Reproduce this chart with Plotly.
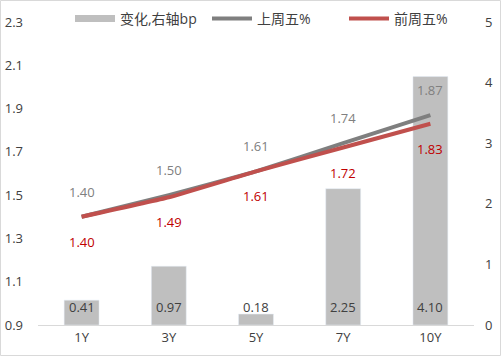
import plotly.graph_objects as go

categories = ["1Y", "3Y", "5Y", "7Y", "10Y"]
change_bp = [0.41, 0.97, 0.18, 2.25, 4.10]
last_fri = [1.40, 1.50, 1.61, 1.74, 1.87]
prev_fri = [1.40, 1.49, 1.61, 1.72, 1.83]
left_ticks = [0.9, 1.1, 1.3, 1.5, 1.7, 1.9, 2.1, 2.3]
right_ticks = [0, 1, 2, 3, 4, 5]

W, H = 501, 356
L, R, T, B = 38, 27, 22, 31
pw, ph = W - L - R, H - T - B

font = "Open Sans, Noto Sans CJK SC, sans-serif"
TXT = "#404040"

fig = go.Figure()
# bars on the right axis (primary y, drawn underneath)
fig.add_trace(go.Bar(
    x=categories, y=change_bp, yaxis="y", marker_color="#BFBFBF",
    width=0.4, name="变化,右轴bp", showlegend=False,
))
# legend proxy for bars
fig.add_trace(go.Scatter(
    x=[None], y=[None], yaxis="y2", mode="lines",
    line=dict(color="#BFBFBF", width=7), name="变化,右轴bp",
))
fig.add_trace(go.Scatter(
    x=categories, y=last_fri, yaxis="y2", mode="lines", name="上周五%",
    line=dict(color="#7F7F7F", width=4, shape="spline", smoothing=0.3),
))
fig.add_trace(go.Scatter(
    x=categories, y=prev_fri, yaxis="y2", mode="lines", name="前周五%",
    line=dict(color="#C0504D", width=4, shape="spline", smoothing=0.3),
))

annotations = []
for c, v in zip(categories, change_bp):
    annotations.append(dict(x=c, y=0, xref="x", yref="y", text=f"{v:.2f}",
                            showarrow=False, yanchor="middle", yshift=18,
                            font=dict(color=TXT, size=13)))
for c, v in zip(categories, last_fri):
    annotations.append(dict(x=c, y=v, xref="x", yref="y2", text=f"{v:.2f}",
                            showarrow=False, yanchor="middle", yshift=25,
                            font=dict(color="#808080", size=13)))
for c, v in zip(categories, prev_fri):
    annotations.append(dict(x=c, y=v, xref="x", yref="y2", text=f"{v:.2f}",
                            showarrow=False, yanchor="middle", yshift=-25,
                            font=dict(color="#C00000", size=13)))

fig.update_layout(
    width=W, height=H, margin=dict(l=L, r=R, t=T, b=B, autoexpand=False),
    paper_bgcolor="white", plot_bgcolor="rgba(0,0,0,0)",
    font=dict(family=font, size=13, color=TXT),
    xaxis=dict(type="category", range=[-0.5, 4.5], showgrid=False,
               showline=True, linecolor="#D9D9D9", linewidth=1, ticks="",
               tickfont=dict(size=13, color=TXT)),
    yaxis=dict(range=[0, 5], tickvals=right_ticks, side="right",
               showgrid=False, zeroline=False, showline=False,
               ticklabelstandoff=10, tickfont=dict(size=13, color=TXT)),
    yaxis2=dict(range=[0.9, 2.3], tickvals=left_ticks, overlaying="y", side="left",
                ticktext=[f"{v:.1f}" for v in left_ticks], showgrid=False,
                zeroline=False, showline=False, ticklabelstandoff=14,
                tickfont=dict(size=13, color=TXT)),
    legend=dict(orientation="h", x=(70 - L) / pw, xanchor="left",
                y=1 + (T - 3) / ph, yanchor="top", bgcolor="rgba(0,0,0,0)",
                font=dict(size=14, color=TXT), itemwidth=40,
                entrywidth=82, traceorder="normal"),
    annotations=annotations,
    shapes=[dict(type="rect", xref="paper", yref="paper",
                 x0=(-L + 0.5) / pw, x1=(pw + R - 0.5) / pw,
                 y0=(-B + 0.5) / ph, y1=(ph + T - 0.5) / ph,
                 line=dict(color="#D9D9D9", width=1))],
)

fig.write_html("out.html", config={"displayModeBar": False},
               post_script="document.body.style.margin='0';")
